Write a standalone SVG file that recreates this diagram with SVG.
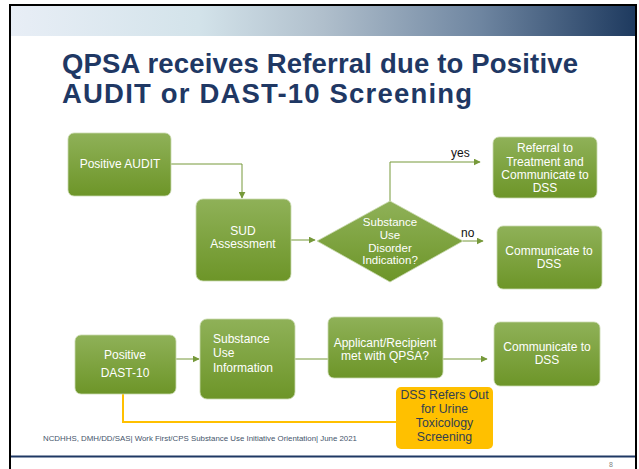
<svg xmlns="http://www.w3.org/2000/svg" width="639" height="469" viewBox="0 0 639 469">
  <defs>
    <linearGradient id="band" x1="0" y1="0" x2="1" y2="0">
      <stop offset="0" stop-color="#e8eef6"/>
      <stop offset="0.3" stop-color="#d3e3ea"/>
      <stop offset="0.5" stop-color="#b0bfcc"/>
      <stop offset="0.75" stop-color="#6f86a1"/>
      <stop offset="1" stop-color="#1e3a5f"/>
    </linearGradient>
    <linearGradient id="green" x1="0" y1="0" x2="0" y2="1">
      <stop offset="0" stop-color="#8fb158"/>
      <stop offset="1" stop-color="#6d9528"/>
    </linearGradient>
    <marker id="arr" viewBox="0 0 10 10" refX="9" refY="5" markerWidth="7" markerHeight="7" markerUnits="userSpaceOnUse" orient="auto">
      <path d="M0,0 L10,5 L0,10 z" fill="#76993a"/>
    </marker>
    <style>
      .node { fill: url(#green); stroke: #c9d9ae; stroke-width: 0.8; }
      .t { font-family: "Liberation Sans", Arial, sans-serif; font-size: 12px; fill: #ffffff; text-anchor: middle; }
      .tl { font-family: "Liberation Sans", Arial, sans-serif; font-size: 12px; fill: #ffffff; }
      .lbl { font-family: "Liberation Sans", Arial, sans-serif; font-size: 12px; fill: #111111; }
      .con { fill: none; stroke: #76993a; stroke-width: 1; }
      .title { font-family: "Liberation Sans", Arial, sans-serif; font-size: 27.5px; font-weight: bold; fill: #1f3864; }
    </style>
  </defs>

  <rect x="0" y="0" width="639" height="469" fill="#ffffff"/>
  <rect x="11" y="6" width="624" height="30" fill="url(#band)"/>
  <path d="M10,475 L10,5 L636,5 L636,475" fill="none" stroke="#000000" stroke-width="2"/>
  <line x1="11" y1="456.5" x2="635" y2="456.5" stroke="#1f3864" stroke-width="2"/>

  <text class="title" x="62" y="73" textLength="516">QPSA receives Referral due to Positive</text>
  <text class="title" x="62" y="103" textLength="410">AUDIT or DAST-10 Screening</text>

  <g id="connectors">
    <path class="con" d="M171,164 L242,164 L242,198" marker-end="url(#arr)"/>
    <path class="con" d="M291,240 L315,240" marker-end="url(#arr)"/>
    <path class="con" d="M390,201 L390,162 L480,162" marker-end="url(#arr)"/>
    <path class="con" d="M463,241 L483,241" marker-end="url(#arr)"/>
    <path class="con" d="M176,359 L199,359" marker-end="url(#arr)"/>
    <path class="con" d="M295,359 L328,359"/>
    <path class="con" d="M443,359 L487,359" marker-end="url(#arr)"/>
    <path d="M123,394 L123,422 L396,422" fill="none" stroke="#ffc000" stroke-width="2"/>
    <text class="lbl" x="451" y="157">yes</text>
    <text class="lbl" x="461" y="237">no</text>
  </g>

  <g id="positive-audit">
    <rect class="node" x="68" y="133" width="103" height="63" rx="6"/>
    <text class="t" x="120" y="168">Positive AUDIT</text>
  </g>

  <g id="sud-assessment">
    <rect class="node" x="196" y="199" width="95" height="82" rx="7"/>
    <text class="t" x="243" y="235">SUD</text>
    <text class="t" x="243" y="248">Assessment</text>
  </g>

  <g id="sud-indication">
    <polygon class="node" points="390,201 463,241 390,282 317,241"/>
    <text class="t" style="font-size:11.5px" x="390" y="226">Substance</text>
    <text class="t" style="font-size:11.5px" x="390" y="238.5">Use</text>
    <text class="t" style="font-size:11.5px" x="390" y="251.5">Disorder</text>
    <text class="t" style="font-size:11.5px" x="390" y="264">Indication?</text>
  </g>

  <g id="referral-treatment">
    <rect class="node" x="493" y="137" width="104" height="61" rx="6"/>
    <text class="t" x="545" y="152">Referral to</text>
    <text class="t" x="545" y="165.5">Treatment and</text>
    <text class="t" x="545" y="178.5">Communicate to</text>
    <text class="t" x="545" y="192">DSS</text>
  </g>

  <g id="communicate-dss-1">
    <rect class="node" x="497" y="226" width="105" height="63" rx="6"/>
    <text class="t" x="549" y="255">Communicate to</text>
    <text class="t" x="549" y="268">DSS</text>
  </g>

  <g id="positive-dast">
    <rect class="node" x="75" y="335" width="101" height="59" rx="6"/>
    <text class="t" x="125" y="359">Positive</text>
    <text class="t" x="125" y="377">DAST-10</text>
  </g>

  <g id="substance-use-info">
    <rect class="node" x="200" y="319" width="95" height="80" rx="7"/>
    <text class="tl" x="213" y="343">Substance</text>
    <text class="tl" x="213" y="357">Use</text>
    <text class="tl" x="213" y="372">Information</text>
  </g>

  <g id="applicant-met">
    <rect class="node" x="328" y="317" width="115" height="61" rx="6"/>
    <text class="t" x="385" y="347">Applicant/Recipient</text>
    <text class="t" x="385" y="360">met with QPSA?</text>
  </g>

  <g id="communicate-dss-2">
    <rect class="node" x="494" y="322" width="106" height="64" rx="6"/>
    <text class="t" x="547" y="351">Communicate to</text>
    <text class="t" x="547" y="364">DSS</text>
  </g>

  <g id="dss-refers-out">
    <rect x="396" y="387" width="97" height="62" rx="5" fill="#ffc000"/>
    <text class="t" style="fill:#333f50;font-size:12.3px" x="444.5" y="399">DSS Refers Out</text>
    <text class="t" style="fill:#333f50;font-size:12.3px" x="444.5" y="413">for Urine</text>
    <text class="t" style="fill:#333f50;font-size:12.3px" x="444.5" y="427">Toxicology</text>
    <text class="t" style="fill:#333f50;font-size:12.3px" x="444.5" y="441">Screening</text>
  </g>

  <text x="43" y="441" font-family="Liberation Sans, Arial, sans-serif" font-size="7.6" fill="#44546a" textLength="314" lengthAdjust="spacingAndGlyphs">NCDHHS, DMH/DD/SAS| Work First/CPS Substance Use Initiative Orientation| June 2021</text>
  <text x="611" y="467" font-family="Liberation Sans, Arial, sans-serif" font-size="7" fill="#7f7f7f" text-anchor="middle">8</text>
</svg>
